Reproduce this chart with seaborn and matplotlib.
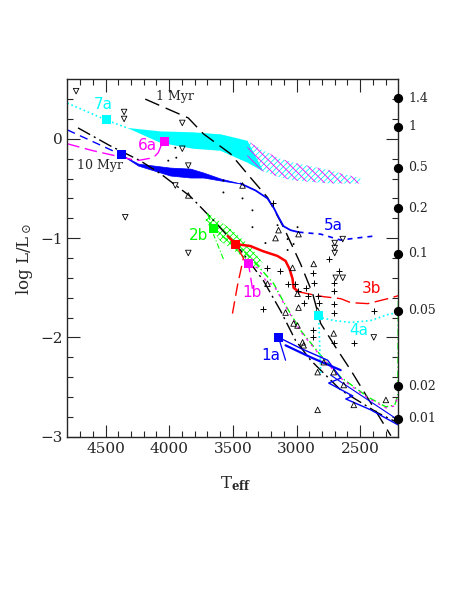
import numpy as np
import pandas as pd
import matplotlib
matplotlib.use("Agg")
import matplotlib.pyplot as plt
import seaborn as sns

# isochrones (Teff, log L)
iso1_T = [4188, 3850, 3731, 3519, 3362, 3228, 3102, 2968, 2873, 2810, 2692, 2574, 2417, 2259]
iso1_L = [0.40, 0.21, 0.05, -0.15, -0.39, -0.59, -0.89, -1.26, -1.56, -1.86, -2.10, -2.33, -2.66, -2.99]
iso10_T = [4716, 4464, 4228, 4070, 3834, 3653, 3440, 3259, 3126, 3008, 2889, 2653, 2362, 2204]
iso10_L = [0.11, -0.07, -0.22, -0.35, -0.58, -0.82, -1.12, -1.43, -1.73, -2.03, -2.23, -2.53, -2.76, -2.86]

# track 7a (cyan)
t7a_pre_T = [4800, 4495, 4330]
t7a_pre_L = [0.36, 0.19, 0.11]
band_T = [4330, 4070, 3810, 3597, 3385, 3259, 3126, 3023, 2731, 2496]
band_top = [0.11, 0.075, 0.065, 0.045, -0.02, -0.12, -0.20, -0.24, -0.32, -0.40]
band_bot = [0.11, -0.04, -0.10, -0.12, -0.24, -0.33, -0.39, -0.42, -0.45, -0.45]

# track 6a (magenta)
t6a_T = [4800, 4598, 4251, 4125, 4086, 4054, 4039]
t6a_L = [-0.05, -0.12, -0.22, -0.19, -0.14, -0.04, -0.03]

# track 5a (blue)
t5a_pre_T = [4800, 4376]
t5a_pre_L = [0.09, -0.16]
wedge_T = [4376, 4243, 3991, 3834, 3731, 3597, 3440]
wedge_top = [-0.16, -0.25, -0.29, -0.30, -0.34, -0.40, -0.45]
wedge_bot = [-0.16, -0.27, -0.37, -0.39, -0.39, -0.42, -0.45]
t5a_T = [3440, 3322, 3228, 3181, 3141, 3102, 3047, 2984, 2810, 2653, 2535, 2393]
t5a_L = [-0.45, -0.52, -0.60, -0.69, -0.79, -0.88, -0.92, -0.94, -0.96, -1.02, -1.00, -0.98]

# track 2b (green)
t2b_pre_T = [3574, 3653]
t2b_pre_L = [-1.21, -0.96]
t2b_T = [3700, 3653, 3558, 3440, 3306, 3180, 3086, 2968, 2810, 2653, 2440, 2298, 2228, 2204, 2200]
t2b_L = [-0.75, -0.905, -1.005, -1.095, -1.276, -1.457, -1.678, -1.929, -2.18, -2.40, -2.60, -2.70, -2.68, -2.58, -1.63]
spark_T = [3700, 3519, 3362, 3267, 3306, 3401, 3597, 3716]
spark_L = [-0.745, -0.905, -1.08, -1.25, -1.31, -1.21, -1.03, -0.825]

# track 3b (red)
t3b_pre_T = [3503, 3464, 3417, 3478]
t3b_pre_L = [-1.76, -1.48, -1.20, -1.06]
t3b_T = [3540, 3478, 3362, 3267, 3149, 3086, 3055, 3031, 3023, 2984]
t3b_L = [-0.98, -1.06, -1.08, -1.13, -1.18, -1.23, -1.31, -1.41, -1.50, -1.54]
t3b_end_T = [2984, 2913, 2787, 2653, 2574, 2440, 2283, 2200]
t3b_end_L = [-1.54, -1.56, -1.59, -1.61, -1.65, -1.66, -1.61, -1.58]

# track 1b (magenta)
t1b_pre_T = [3346, 3362, 3377]
t1b_pre_L = [-1.51, -1.38, -1.26]
t1b_T = [3377, 3306, 3230, 3180, 3086, 2968, 2810, 2653, 2440, 2298, 2228, 2204]
t1b_L = [-1.26, -1.30, -1.45, -1.47, -1.69, -1.94, -2.19, -2.41, -2.61, -2.71, -2.69, -2.59]

# track 4a (cyan)
t4a_pre_T = [2810, 2818, 2826]
t4a_pre_L = [-2.36, -2.08, -1.78]
t4a_T = [2826, 2810, 2708, 2574, 2417, 2283, 2204]
t4a_L = [-1.78, -1.80, -1.83, -1.85, -1.83, -1.77, -1.75]

# track 1a (blue)
t1a_pre_T = [3086, 3141]
t1a_pre_L = [-2.23, -2.00]
t1a_T = [3141, 2968, 2755, 2653, 2747, 2558, 2613, 2417, 2204]
t1a_L = [-2.00, -2.11, -2.23, -2.41, -2.46, -2.59, -2.62, -2.73, -2.88]
t1a_b_T = [3086, 2889, 2653]
t1a_b_L = [-2.08, -2.20, -2.33]
t1a_c_T = [2732, 2204]
t1a_c_L = [-2.38, -2.83]

# age-marker squares
sq_T = [4495, 4039, 4376, 3653, 3478, 3377, 2826, 3141]
sq_L = [0.19, -0.03, -0.16, -0.905, -1.06, -1.26, -1.78, -2.00]
sq_col = ["#00ffff", "#ff00ff", "#0000ff", "#00ff00", "#ff0000", "#ff00ff", "#00ffff", "#0000ff"]

# track labels
lab_txt = ["7a", "6a", "5a", "2b", "3b", "1b", "4a", "1a"]
lab_T = [4518, 4172, 2707, 3771, 2409, 3346, 2511, 3204]
lab_L = [0.35, -0.07, -0.87, -0.97, -1.51, -1.55, -1.93, -2.18]
lab_col = ["#00ffff", "#ff00ff", "#0000ff", "#00ff00", "#ff0000", "#ff00ff", "#00ffff", "#0000ff"]

# observed objects
dn_T = [4731, 4354, 4354, 4345, 3897, 3897, 3850, 3952, 3850, 2700, 2700, 2700, 2637, 2692, 2637, 2393]
dn_L = [0.48, 0.27, 0.20, -0.79, 0.16, -0.10, -0.27, -0.47, -1.15, -1.05, -1.10, -1.15, -1.01, -1.40, -1.40, -2.00]
up_T = [3850, 3424, 3141, 3165, 2984, 2865, 3228, 2992, 2984, 3086, 3023, 2992, 2952, 2944,
        2834, 2786, 2708, 2708, 2629, 2550, 2298, 2834, 2834, 3031]
up_L = [-0.57, -0.47, -0.92, -1.00, -0.96, -1.26, -1.46, -1.56, -1.70, -1.75, -1.86, -1.88, -2.05, -2.08,
        -1.73, -2.25, -1.96, -2.35, -2.48, -2.68, -2.63, -2.73, -2.35, -1.30]
pl_T = [3188, 2747, 2669, 3228, 3126, 2873, 3070, 3008, 2865, 2992, 2929, 2913, 2834, 2708, 2708,
        2826, 2944, 3267, 2708, 2708, 2873, 2873, 2708, 2550, 2393]
pl_L = [-0.65, -1.21, -1.33, -1.30, -1.33, -1.35, -1.46, -1.46, -1.45, -1.53, -1.50, -1.58, -1.58, -1.45, -1.53,
        -1.65, -1.65, -1.71, -1.66, -1.75, -1.93, -2.00, -2.06, -2.06, -1.73]
dot_T = [3952, 4007, 3944, 3574, 3574, 3424, 3346, 3346, 3244, 3149, 3070, 3070, 3023, 2992]
dot_L = [-0.09, -0.22, -0.19, -0.42, -0.54, -0.60, -0.72, -0.89, -1.05, -0.87, -1.01, -1.12, -1.06, -0.89]

# masses on the right axis
mass_txt = ["1.4", "1", "0.5", "0.2", "0.1", "0.05", "0.02", "0.01"]
mass_L = [0.41, 0.12, -0.29, -0.70, -1.16, -1.73, -2.49, -2.82]

sns.set_style("ticks")
plt.rcParams["font.family"] = ["DejaVu Serif"]
plt.rcParams["mathtext.fontset"] = "dejavuserif"
plt.rcParams["hatch.linewidth"] = 0.6

fig = plt.figure(figsize=(4.63, 5.99), dpi=100)
ax = fig.add_axes([0.1454, 0.2710, 0.715, 0.5967])

def line(T, L, color, ls="-", lw=1.0, **kw):
    sns.lineplot(x=T, y=L, sort=False, estimator=None, color=color, linestyle=ls, linewidth=lw, ax=ax, **kw)

# isochrones
line(iso1_T, iso1_L, "black", (0, (11, 5)), 1.0)
line(iso10_T, iso10_L, "black", (0, (10, 3, 1.5, 3)), 1.0)

# 7a cyan band (solid part ends on a slant), magenta strands of 6a on the right part
line(t7a_pre_T, t7a_pre_L, "#00ffff", ":", 1.2)
solid_T = band_T[:5] + band_T[:6][::-1]
solid_L = band_top[:5] + band_bot[:6][::-1]
ax.fill(solid_T, solid_L, color="#00ffff", lw=0)
ax.fill_between(band_T[3:], band_bot[3:], band_top[3:], facecolor="none", edgecolor="#00ffff", hatch="//////", lw=0)
ax.fill_between(band_T[4:], band_bot[4:], band_top[4:], facecolor="none", edgecolor="#ff00ff", hatch="\\\\\\\\", lw=0)
line(t6a_T, t6a_L, "#ff00ff", (0, (9, 4)), 1.0)

# 5a blue
line(t5a_pre_T, t5a_pre_L, "#0000ff", (0, (6, 4)), 1.0)
ax.fill_between(wedge_T, wedge_bot, wedge_top, color="#0000ff", lw=0.5)
line(t5a_T[:8], t5a_L[:8], "#0000ff", "-", 1.3)
line(t5a_T[7:], t5a_L[7:], "#0000ff", (0, (3, 3)), 1.2)

# 2b green
ax.fill(spark_T, spark_L, facecolor="none", edgecolor="#00ff00", hatch="xxxxx", lw=0)
line(t2b_pre_T, t2b_pre_L, "#00ff00", (0, (5, 2, 1, 2)), 0.8)
line(t2b_T, t2b_L, "#00ff00", (0, (5, 2, 1, 2)), 1.0)

# 1b magenta
line(t1b_pre_T, t1b_pre_L, "#ff00ff", (0, (8, 4)), 1.0)
line(t1b_T, t1b_L, "#ff00ff", (0, (2, 4)), 0.9)

# 3b red
line(t3b_pre_T, t3b_pre_L, "#ff0000", (0, (9, 4)), 1.0)
line(t3b_T, t3b_L, "#ff0000", "-", 1.8)
line(t3b_end_T, t3b_end_L, "#ff0000", (0, (10, 4)), 1.0)

# 4a cyan
line(t4a_pre_T, t4a_pre_L, "#00ffff", ":", 1.2)
line(t4a_T, t4a_L, "#00ffff", ":", 1.2)

# 1a blue
line(t1a_pre_T, t1a_pre_L, "#0000ff", "-", 0.9)
line(t1a_T, t1a_L, "#0000ff", "-", 1.0)
line(t1a_b_T, t1a_b_L, "#0000ff", "-", 1.6)
line(t1a_c_T, t1a_c_L, "#0000ff", "-", 0.8)

# squares at the age points
sns.scatterplot(x=sq_T, y=sq_L, marker="s", s=42, c=sq_col, edgecolor="none", ax=ax, zorder=5)

# observed objects
sns.scatterplot(x=dn_T, y=dn_L, marker="v", s=16, facecolor="none", edgecolor="black", linewidth=0.6, ax=ax, zorder=4)
sns.scatterplot(x=up_T, y=up_L, marker="^", s=16, facecolor="none", edgecolor="black", linewidth=0.6, ax=ax, zorder=4)
sns.scatterplot(x=pl_T, y=pl_L, marker="+", s=24, color="black", linewidth=0.7, ax=ax, zorder=4)
sns.scatterplot(x=dot_T, y=dot_L, marker="o", s=2, color="black", edgecolor="none", ax=ax, zorder=4)

# labels
ax.text(3952, 0.43, "1 Myr", fontsize=9, ha="center", va="center")
ax.text(4542, -0.27, "10 Myr", fontsize=9, ha="center", va="center")
for txt, T, L, c in zip(lab_txt, lab_T, lab_L, lab_col):
    ax.text(T, L, txt, color=c, fontsize=11, family="DejaVu Sans", ha="center", va="center")

# mass scale on the right edge
trans = ax.get_yaxis_transform()
ax.scatter([1.0] * len(mass_L), mass_L, s=32, color="black", transform=trans, clip_on=False, zorder=6)
for txt, L in zip(mass_txt, mass_L):
    ax.text(1.03, L, txt, fontsize=9, transform=trans, ha="left", va="center")

ax.set_xlim(4800, 2200)
ax.set_ylim(-3, 0.6)
ax.set_xticks([4500, 4000, 3500, 3000, 2500])
ax.set_xticks(np.arange(2300, 4800, 100), minor=True)
ax.set_yticks([-3, -2, -1, 0])
ax.set_yticklabels(["\u22123", "\u22122", "\u22121", "0"])
ax.set_yticks(np.arange(-2.8, 0.6, 0.2), minor=True)
ax.tick_params(which="both", direction="in", top=True, right=True, labelsize=11, width=0.8)
ax.tick_params(which="major", length=9)
ax.tick_params(which="minor", length=4.5)
for s in ax.spines.values():
    s.set_linewidth(1.0)

ax.set_xlabel(r"T$_{\mathbf{eff}}$", fontsize=12)
ax.set_ylabel(r"log L/L$_\odot$", fontsize=12)
ax.xaxis.set_label_coords(0.507, -0.104)
ax.yaxis.set_label_coords(-0.098, 0.497)

fig.savefig("out.png", dpi=100)
